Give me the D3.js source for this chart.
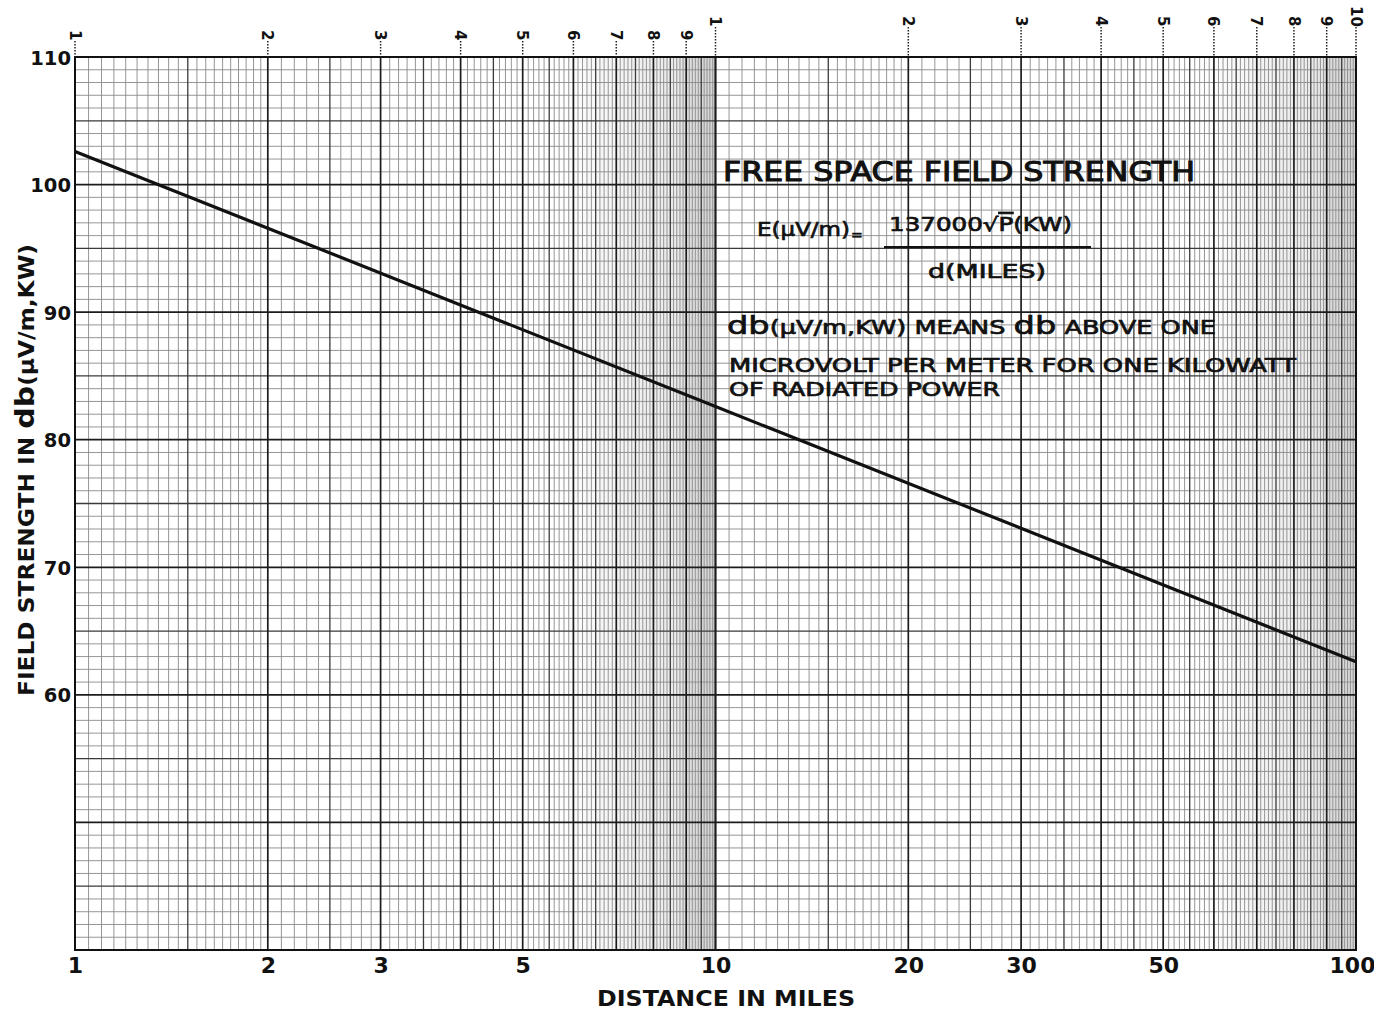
<!DOCTYPE html>
<html>
<head>
<meta charset="utf-8">
<script src="https://cdn.jsdelivr.net/npm/d3@7"></script>
<style>
  html, body { margin: 0; padding: 0; background: #ffffff; }
  svg { display: block; }
  text { font-family: "DejaVu Sans", "Liberation Sans", sans-serif; fill: #111; }
</style>
</head>
<body>
<svg id="chart" width="1374" height="1011"></svg>
<script>
// Free-space field strength versus distance (1 kW radiated)
const distanceMiles = [1, 10, 100];
const fieldStrengthDb = [102.6, 82.6, 62.6];

// Axis labels
const xTickValues = [1, 2, 3, 5, 10, 20, 30, 50, 100];
const yTickValues = [60, 70, 80, 90, 100, 110];

// Cycle numbering printed along the top of the log paper
const cycleValues = [1, 2, 3, 4, 5, 6, 7, 8, 9, 10, 20, 30, 40, 50, 60, 70, 80, 90, 100];
const cycleLabels = ["1", "2", "3", "4", "5", "6", "7", "8", "9", "1", "2", "3", "4", "5", "6", "7", "8", "9", "10"];

// Paper ruling domain
const xDomain = [1, 100];
const yDomain = [40, 110];

const svg = d3.select("#chart");
const plotLeft = 75, plotRight = 1356, plotTop = 57, plotBottom = 950;

const x = d3.scaleLog().domain(xDomain).range([plotLeft, plotRight]);
const y = d3.scaleLinear().domain(yDomain).range([plotBottom, plotTop]);

// ---- shading toward the end of each cycle ----
const defs = svg.append("defs");
const grad = defs.append("linearGradient").attr("id", "cycleShade")
  .attr("x1", "0%").attr("x2", "100%").attr("y1", "0%").attr("y2", "0%");
[[0, 0], [0.35, 0.04], [0.75, 0.08], [0.82, 0.13], [1, 0.17]].forEach(([o, a]) =>
  grad.append("stop").attr("offset", o).attr("stop-color", "#000").attr("stop-opacity", a));

[1, 10].forEach(base => {
  svg.append("rect")
    .attr("x", x(5.6 * base)).attr("y", plotTop)
    .attr("width", x(10 * base) - x(5.6 * base)).attr("height", plotBottom - plotTop)
    .attr("fill", "url(#cycleShade)");
});

// ---- vertical rulings (log cycles) ----
const vLines = [];
[1, 10].forEach(base => {
  for (let i = 20; i <= 200; i++) {
    if (i >= 40 && i % 2 !== 0) continue;
    const cls = i % 20 === 0 ? "major" : (i % 10 === 0 ? "mid" : "minor");
    vLines.push({ v: base * i / 20, cls });
  }
});
// ---- horizontal rulings (1 dB) ----
const hLines = d3.range(yDomain[0], yDomain[1] + 1).map(v => ({
  v, cls: v % 10 === 0 ? "major" : (v % 5 === 0 ? "mid" : "minor")
}));

const style = {
  minor: { stroke: "#8a8a8a", width: 0.9 },
  mid:   { stroke: "#3a3a3a", width: 1.3 },
  major: { stroke: "#1c1c1c", width: 1.7 }
};

const grid = svg.append("g");
["minor", "mid", "major"].forEach(c => {
  grid.selectAll(null).data(vLines.filter(d => d.cls === c)).join("line")
    .attr("x1", d => x(d.v)).attr("x2", d => x(d.v))
    .attr("y1", plotTop).attr("y2", plotBottom)
    .attr("stroke", style[c].stroke).attr("stroke-width", style[c].width);
  grid.selectAll(null).data(hLines.filter(d => d.cls === c)).join("line")
    .attr("x1", plotLeft).attr("x2", plotRight)
    .attr("y1", d => y(d.v)).attr("y2", d => y(d.v))
    .attr("stroke", style[c].stroke).attr("stroke-width", style[c].width);
});

// frame
svg.append("rect").attr("x", plotLeft).attr("y", plotTop)
  .attr("width", plotRight - plotLeft).attr("height", plotBottom - plotTop)
  .attr("fill", "none").attr("stroke", "#111").attr("stroke-width", 2);

// ---- cycle numbers along the top ----
const cyc = svg.append("g");
cycleValues.forEach((v, i) => {
  const lab = cycleLabels[i];
  const y0 = v === 100 ? 6 : (v >= 10 ? 16 : 30);
  const len = lab.length * 10;
  cyc.append("text")
    .attr("transform", `translate(${x(v)},${y0}) rotate(90)`)
    .attr("dy", "0.36em")
    .attr("font-size", 15).attr("font-weight", "bold")
    .text(lab);
  cyc.append("line")
    .attr("x1", x(v)).attr("x2", x(v))
    .attr("y1", y0 + len + 1).attr("y2", plotTop)
    .attr("stroke", "#222").attr("stroke-width", 1.5)
    .attr("stroke-dasharray", "1.6,1.4");
});

// ---- axes ----
const xAxis = d3.axisBottom(x).tickValues(xTickValues).tickSize(0).tickPadding(0)
  .tickFormat(d3.format("d"));
const gx = svg.append("g").attr("transform", `translate(0,${plotBottom})`).call(xAxis);
gx.select(".domain").remove();
gx.selectAll("text").attr("y", 23).attr("dy", 0)
  .attr("font-size", 22).attr("font-weight", "bold").attr("fill", "#111")
  .attr("font-family", "DejaVu Sans");
gx.selectAll(".tick").filter(d => d === 100).select("text").attr("dx", -4);

const yAxis = d3.axisLeft(y).tickValues(yTickValues).tickSize(0).tickPadding(4)
  .tickFormat(d3.format("d"));
const gy = svg.append("g").attr("transform", `translate(${plotLeft},0)`).call(yAxis);
gy.select(".domain").remove();
gy.selectAll("text").attr("font-size", 19.5).attr("font-weight", "bold").attr("fill", "#111")
  .attr("font-family", "DejaVu Sans").attr("dy", "0.36em");

// axis titles
svg.append("text")
  .attr("x", 726).attr("y", 1006)
  .attr("text-anchor", "middle")
  .attr("font-size", 21).attr("font-weight", "bold")
  .attr("textLength", 258).attr("lengthAdjust", "spacingAndGlyphs")
  .text("DISTANCE IN MILES");

const yt = svg.append("text")
  .attr("transform", "translate(34,470) rotate(-90)")
  .attr("text-anchor", "middle")
  .attr("font-size", 21).attr("font-weight", "bold")
  .attr("textLength", 452).attr("lengthAdjust", "spacingAndGlyphs");
yt.append("tspan").text("FIELD STRENGTH IN ");
yt.append("tspan").attr("font-size", 27).text("db");
yt.append("tspan").text("(μV/m,KW)");

// ---- curve ----
const line = d3.line().x(d => x(d[0])).y(d => y(d[1]));
svg.append("path")
  .datum(d3.zip(distanceMiles, fieldStrengthDb))
  .attr("d", line)
  .attr("fill", "none").attr("stroke", "#111").attr("stroke-width", 3.2);

// ---- annotation ----
const note = svg.append("g").attr("stroke", "#111").attr("stroke-width", 0.7);
note.append("text").attr("x", 723).attr("y", 181)
  .attr("font-size", 26).attr("stroke-width", 1.0)
  .attr("textLength", 472).attr("lengthAdjust", "spacingAndGlyphs")
  .text("FREE SPACE FIELD STRENGTH");

note.append("text").attr("x", 757).attr("y", 236).attr("font-size", 20)
  .attr("textLength", 93).attr("lengthAdjust", "spacingAndGlyphs")
  .text("E(μV/m)");
note.append("text").attr("x", 851).attr("y", 240).attr("font-size", 14).text("=");
const num = note.append("text").attr("x", 889).attr("y", 231).attr("font-size", 19)
  .attr("textLength", 183).attr("lengthAdjust", "spacingAndGlyphs");
num.append("tspan").text("137000√");
num.append("tspan").style("text-decoration", "overline").text("P");
num.append("tspan").text("(KW)");
note.append("line").attr("x1", 884).attr("x2", 1091).attr("y1", 247).attr("y2", 247)
  .attr("stroke", "#111").attr("stroke-width", 1.8);
note.append("text").attr("x", 928).attr("y", 278).attr("font-size", 19)
  .attr("textLength", 118).attr("lengthAdjust", "spacingAndGlyphs")
  .text("d(MILES)");

const def1 = note.append("text").attr("x", 727).attr("y", 334).attr("font-size", 19)
  .attr("textLength", 489).attr("lengthAdjust", "spacingAndGlyphs");
def1.append("tspan").attr("font-size", 25).text("db");
def1.append("tspan").text("(μV/m,KW) MEANS ");
def1.append("tspan").attr("font-size", 25).text("db");
def1.append("tspan").text(" ABOVE ONE");
note.append("text").attr("x", 729).attr("y", 372).attr("font-size", 19)
  .attr("textLength", 567).attr("lengthAdjust", "spacingAndGlyphs")
  .text("MICROVOLT PER METER FOR ONE KILOWATT");
note.append("text").attr("x", 729).attr("y", 396).attr("font-size", 19)
  .attr("textLength", 271).attr("lengthAdjust", "spacingAndGlyphs")
  .text("OF RADIATED POWER");
</script>
</body>
</html>
